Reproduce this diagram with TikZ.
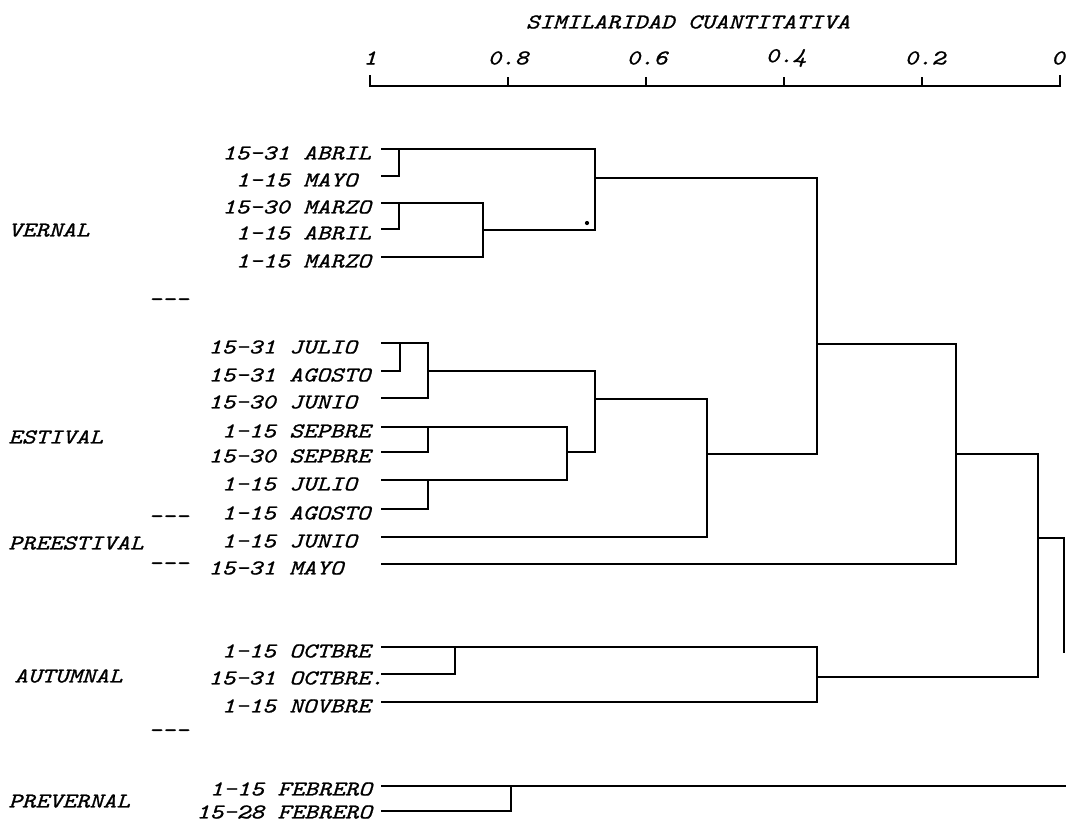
\documentclass[tikz,border=0pt]{standalone}
\usepackage{fontspec}
\newfontfamily\printfont{lmmono10-italic.otf}[FakeStretch=1.22, FakeBold=1]
\newcommand{\printtext}{\printfont\fontsize{12pt}{14pt}\selectfont}

\begin{document}
\begin{tikzpicture}[
    x=0.02cm, y=-0.02cm,
    font=\printtext,
    leaf/.style={anchor=west, inner sep=0pt},
    group/.style={anchor=west, inner sep=0pt},
    scalelabel/.style={anchor=center, inner sep=0pt},
    link/.style={line width=1.1pt, line cap=rect, line join=miter}
]
\useasboundingbox (0,0) rectangle (1066,823);

% Scale
\node[scalelabel] (title) at (688,22) {SIMILARIDAD CUANTITATIVA};
\node[scalelabel] (s10) at (370,58) {1};
\node[scalelabel] (s08) at (508,58) {0.8};
\node[scalelabel] (s06) at (647,58) {0.6};
\node[scalelabel] (s04) at (786,58) {0.4};
\node[scalelabel] (s02) at (925,58) {0.2};
\node[scalelabel] (s00) at (1058,58) {0};

\coordinate (ax0) at (370,86);  \coordinate (tk0) at (370,76);
\coordinate (ax1) at (508,86);  \coordinate (tk1) at (508,78);
\coordinate (ax2) at (646,86);  \coordinate (tk2) at (646,78);
\coordinate (ax3) at (784,86);  \coordinate (tk3) at (784,78);
\coordinate (ax4) at (922,86);  \coordinate (tk4) at (922,78);
\coordinate (ax5) at (1060,86); \coordinate (tk5) at (1060,76);

\draw[link] (tk0) -- (ax0) -- (ax5) -- (tk5);
\draw[link] (tk1) -- (ax1);
\draw[link] (tk2) -- (ax2);
\draw[link] (tk3) -- (ax3);
\draw[link] (tk4) -- (ax4);

% Groups
\node[group] (vernal) at (8,230) {VERNAL};
\node[group] (sep1) at (148,302) {-{}-{}-};
\node[group] (estival) at (8,437) {ESTIVAL};
\node[group] (sep2) at (148,519) {-{}-{}-};
\node[group] (preestival) at (8,543) {PREESTIVAL};
\node[group] (sep3) at (148,566) {-{}-{}-};
\node[group] (autumnal) at (14,676) {AUTUMNAL};
\node[group] (sep4) at (148,733) {-{}-{}-};
\node[group] (prevernal) at (8,801) {PREVERNAL};

% Leaves
\node[leaf] (abr2) at (222,153) {15-31 ABRIL};
\node[leaf] (may1) at (222,180) {\phantom{1}1-15 MAYO};
\node[leaf] (mar2) at (222,207) {15-30 MARZO};
\node[leaf] (abr1) at (222,233) {\phantom{1}1-15 ABRIL};
\node[leaf] (mar1) at (222,261) {\phantom{1}1-15 MARZO};

\node[leaf] (jul2) at (208,347) {15-31 JULIO};
\node[leaf] (ago2) at (208,375) {15-31 AGOSTO};
\node[leaf] (jun2) at (208,402) {15-30 JUNIO};
\node[leaf] (sep1a) at (208,431) {\phantom{1}1-15 SEPBRE};
\node[leaf] (sep2a) at (208,456) {15-30 SEPBRE};
\node[leaf] (jul1) at (208,484) {\phantom{1}1-15 JULIO};
\node[leaf] (ago1) at (208,513) {\phantom{1}1-15 AGOSTO};
\node[leaf] (jun1) at (208,541) {\phantom{1}1-15 JUNIO};
\node[leaf] (may2) at (208,568) {15-31 MAYO};

\node[leaf] (oct1) at (208,651) {\phantom{1}1-15 OCTBRE};
\node[leaf] (oct2) at (208,678) {15-31 OCTBRE.};
\node[leaf] (nov1) at (208,706) {\phantom{1}1-15 NOVBRE};

\node[leaf] (feb1) at (196,789) {\phantom{1}1-15 FEBRERO};
\node[leaf] (feb2) at (196,812) {15-28 FEBRERO};

% Leaf line starts
\coordinate (a1) at (382,149);
\coordinate (a2) at (382,176);
\coordinate (a3) at (382,203);
\coordinate (a4) at (382,229);
\coordinate (a5) at (382,257);
\coordinate (e1) at (382,343);
\coordinate (e2) at (382,371);
\coordinate (e3) at (382,398);
\coordinate (e4) at (382,427);
\coordinate (e5) at (382,452);
\coordinate (e6) at (382,480);
\coordinate (e7) at (382,509);
\coordinate (p1) at (382,537);
\coordinate (p2) at (382,564);
\coordinate (o1) at (382,647);
\coordinate (o2) at (382,674);
\coordinate (o3) at (382,702);
\coordinate (f1) at (382,786);
\coordinate (f2) at (382,811);

% Merge points
\coordinate (v1) at (399,149);
\coordinate (v2) at (399,203);
\coordinate (v4) at (483,203);
\coordinate (v4o) at (483,230);
\coordinate (v3) at (595,149);
\coordinate (v3o) at (595,178);
\coordinate (w1) at (817,178);
\coordinate (w1o) at (817,344);
\coordinate (u1) at (400,343);
\coordinate (u2) at (428,343);
\coordinate (u2o) at (428,371);
\coordinate (u3) at (428,427);
\coordinate (u4) at (428,480);
\coordinate (s1) at (567,427);
\coordinate (s1o) at (567,452);
\coordinate (s3) at (595,452);
\coordinate (s3o) at (595,399);
\coordinate (x7) at (707,537);
\coordinate (x7o) at (707,454);
\coordinate (y1) at (956,344);
\coordinate (y1o) at (956,454);
\coordinate (z1) at (1038,454);
\coordinate (z1o) at (1038,538);
\coordinate (rt) at (1064,652);
\coordinate (q1) at (455,647);
\coordinate (q2) at (817,647);
\coordinate (q2o) at (817,677);
\coordinate (g1) at (511,786);
\coordinate (fe) at (1066,786);
\coordinate (dot) at (587,223);

% Vernal
\draw[link] (a1) -- (v3);
\draw[link] (a2) -| (v1);
\draw[link] (a3) -- (v4);
\draw[link] (a4) -| (v2);
\draw[link] (a5) -| (v4);
\draw[link] (v4o) -| (v3);
\draw[link] (v3o) -- (w1);
\fill (dot) circle (1.2pt);

% Estival & preestival
\draw[link] (e1) -- (u2);
\draw[link] (e2) -| (u1);
\draw[link] (e3) -| (u2);
\draw[link] (u2o) -| (s3);
\draw[link] (e4) -- (s1);
\draw[link] (e5) -| (u3);
\draw[link] (e6) -| (s1);
\draw[link] (e7) -| (u4);
\draw[link] (s1o) -- (s3);
\draw[link] (s3o) -| (x7);
\draw[link] (p1) -- (x7);
\draw[link] (x7o) -| (w1);
\draw[link] (w1o) -- (y1);
\draw[link] (p2) -| (y1);
\draw[link] (y1o) -- (z1);

% Autumnal
\draw[link] (o1) -- (q2);
\draw[link] (o2) -| (q1);
\draw[link] (o3) -| (q2);
\draw[link] (q2o) -| (z1);
\draw[link] (z1o) -| (rt);

% Prevernal
\draw[link] (f1) -- (fe);
\draw[link] (f2) -| (g1);

\end{tikzpicture}
\end{document}
